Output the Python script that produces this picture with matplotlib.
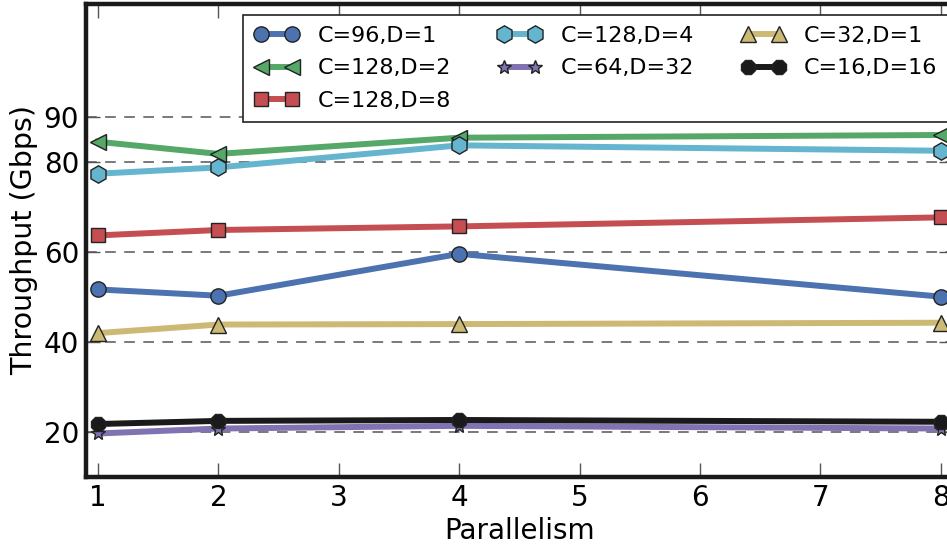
import matplotlib
matplotlib.use("Agg")
import matplotlib.pyplot as plt

parallelism = [1, 2, 4, 8]
labels = ["C=96,D=1", "C=128,D=2", "C=128,D=8", "C=128,D=4",
          "C=64,D=32", "C=32,D=1", "C=16,D=16"]
c96_d1 = [51.6, 50.2, 59.5, 50.0]
c128_d2 = [84.4, 81.7, 85.3, 85.9]
c128_d8 = [63.6, 64.8, 65.6, 67.6]
c128_d4 = [77.3, 78.7, 83.6, 82.4]
c64_d32 = [19.6, 20.7, 21.3, 20.7]
c32_d1 = [41.9, 43.8, 43.9, 44.2]
c16_d16 = [21.7, 22.4, 22.6, 22.2]
yticks = [20, 40, 60, 80, 90]

series = [c96_d1, c128_d2, c128_d8, c128_d4, c64_d32, c32_d1, c16_d16]
colors = ["#4C72B0", "#55A868", "#C44E52", "#64B5CD", "#8172B2", "#CCB974", "#1a1a1a"]
markers = ["o", "<", "s", "h", "*", "^", "8"]
msizes = [11, 11, 10.5, 12.5, 10.5, 11, 11.5]

plt.rcParams['font.family'] = ['DejaVu Sans']
fig = plt.figure(figsize=(9.47, 5.45), dpi=100)
ax = fig.add_axes([0.0908, 0.1253, 0.9152, 0.8674])

for vals, lab, c, m, ms in zip(series, labels, colors, markers, msizes):
    ax.plot(parallelism, vals, color=c, marker=m, markersize=ms, lw=4.3,
            markeredgecolor="#222222", markeredgewidth=1.0, label=lab)

ax.set_xlim(0.9, 8.1)
ax.set_ylim(10, 115)
ax.set_yticks(yticks)
ax.set_xticks(range(1, 9))
ax.yaxis.grid(True, linestyle=(0, (7, 5.5)), color="#555555", lw=1.1)
ax.set_axisbelow(True)
for s in ax.spines.values():
    s.set_linewidth(3.2)
    s.set_color("#1a1a1a")
ax.tick_params(axis='both', direction='in', length=10, width=1.0, color="#555555",
               labelsize=20, top=True, right=True, pad=5)
ax.set_xlabel("Parallelism", fontsize=20, labelpad=4)
ax.set_ylabel("Throughput (Gbps)", fontsize=20.5, labelpad=4)

leg = fig.legend(loc="upper left", bbox_to_anchor=(243/947, 1-15/545), ncol=3,
                 fontsize=16, numpoints=2, fancybox=False, framealpha=1,
                 edgecolor="#222222", handlelength=2.0, columnspacing=2.1,
                 handletextpad=0.85, borderpad=0.5, labelspacing=0.55,
                 borderaxespad=0)
leg.get_frame().set_linewidth(1.2)

fig.savefig("out.png", dpi=100)
